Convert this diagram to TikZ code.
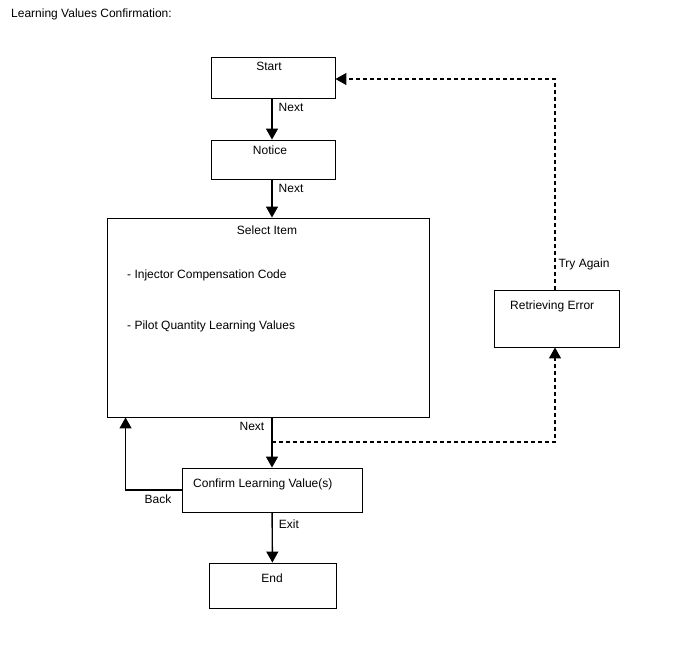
\documentclass[tikz,border=0pt]{standalone}
\usepackage{fontspec}
\setmainfont{Liberation Sans}
\usepackage{tikz}
\usetikzlibrary{arrows.meta,positioning}

\tikzset{
  box/.style={draw,line width=0.9pt,inner sep=0pt},
  txt/.style={font=\fontsize{12}{14}\selectfont,inner sep=0pt},
  lbl/.style={font=\fontsize{12}{14}\selectfont,inner sep=1pt},
  arr/.style={line width=1.4pt,-{Triangle[length=11pt,width=12pt]}},
  dasharr/.style={line width=1.2pt,dash pattern=on 4pt off 3pt,-{Triangle[length=11pt,width=12pt]}}
}

\begin{document}
\begin{tikzpicture}[x=1pt,y=-1pt]
  \useasboundingbox (0,0) rectangle (688,658);

  % Title
  \node[txt,anchor=base west] (title) at (11,18) {Learning Values Confirmation:};

  % Boxes
  \node[box,minimum width=124pt,minimum height=41pt] (start) at (273,77.5) {};
  \node[box,minimum width=124pt,minimum height=39pt] (notice) at (273,159.5) {};
  \node[box,minimum width=322pt,minimum height=199pt] (select) at (268,317.5) {};
  \node[box,minimum width=180pt,minimum height=44pt] (confirm) at (272,490) {};
  \node[box,minimum width=127pt,minimum height=45pt] (end) at (272.5,585.5) {};
  \node[box,minimum width=125pt,minimum height=57pt] (retry) at (556.5,318.5) {};

  % Box texts
  \node[txt,anchor=base] (starttxt) at (269,71) {Start};
  \node[txt,anchor=base] (noticetxt) at (270,154) {Notice};
  \node[txt,anchor=base] (selecttxt) at (267,234) {Select Item};
  \node[txt,anchor=base west] (item1) at (127,278) {- Injector Compensation Code};
  \node[txt,anchor=base west] (item2) at (127,329.5) {- Pilot Quantity Learning Values};
  \node[txt,anchor=base west] (confirmtxt) at (193,487) {Confirm Learning Value(s)};
  \node[txt,anchor=base] (endtxt) at (272,582) {End};
  \node[txt,anchor=base west] (retrytxt) at (510,309) {Retrieving Error};

  % Main flow
  \draw[arr] ([xshift=-1pt]start.south) -- node[lbl,right=5pt,pos=0.22] (next1) {Next} ([xshift=-1pt]notice.north);
  \draw[arr] ([xshift=-1pt]notice.south) -- node[lbl,right=5pt,pos=0.23] (next2) {Next} ([xshift=-1pt]notice.south |- select.north);
  \coordinate (split) at (272,442);
  \draw[arr] (select.south -| confirm.north) -- node[lbl,left=6pt,pos=0.18] (next3) {Next} (confirm.north);
  \draw[arr] (confirm) -- node[lbl,right=5pt,pos=0.24] (exit) {Exit} (end);
  \draw[arr] (confirm.west) -| node[lbl,below=3pt,pos=0.21] (back) {Back} ([xshift=19pt]select.south west);

  % Error branch
  \draw[dasharr] (split) -| ([xshift=-1.5pt]retry.south);
  \draw[dasharr] ([xshift=-1.5pt]retry.north) |- node[lbl,right=2pt,pos=0.06] (tryagain) {Try Again} ([yshift=-1.5pt]start.east);
\end{tikzpicture}
\end{document}
